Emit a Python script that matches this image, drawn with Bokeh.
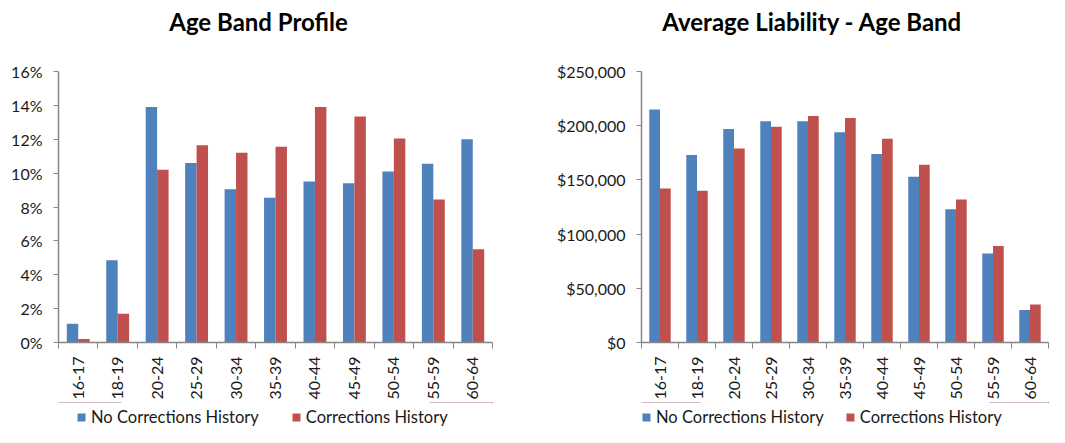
import math
from bokeh.plotting import figure
from bokeh.layouts import row, column
from bokeh.models import (ColumnDataSource, Range1d, FixedTicker, PrintfTickFormatter,
                          NumeralTickFormatter, Legend, LegendItem, Label)
from bokeh.transform import dodge
from bokeh.embed import file_html
from bokeh.resources import INLINE

# ---- data ----
age_bands = ["16-17", "18-19", "20-24", "25-29", "30-34", "35-39",
             "40-44", "45-49", "50-54", "55-59", "60-64"]
share_no_corrections = [1.1, 4.85, 13.9, 10.6, 9.05, 8.55, 9.5, 9.4, 10.1, 10.55, 12.0]
share_corrections = [0.2, 1.7, 10.2, 11.65, 11.2, 11.55, 13.9, 13.35, 12.05, 8.45, 5.5]
liability_no_corrections = [215000, 173000, 197000, 204000, 204000, 194000,
                            174000, 153000, 123000, 82000, 30000]
liability_corrections = [142000, 140000, 179000, 199000, 209000, 207000,
                         188000, 164000, 132000, 89000, 35000]
share_ticks = [0, 2, 4, 6, 8, 10, 12, 14, 16]
liability_ticks = [0, 50000, 100000, 150000, 200000, 250000]
series_names = ["No Corrections History", "Corrections History"]
titles = ["Age Band Profile", "Average Liability - Age Band"]

BLUE = "#4F81BD"
RED = "#C0504D"
AXIS = "#868686"
TXT = "#1a1a1a"
FONT = "Lato"

TITLE_H = 61
CHART_H = 341
LEGEND_H = 25


def bare_figure(width, height, y_range=(0, 1)):
    f = figure(width=width, height=height, x_range=Range1d(0, 1),
               y_range=Range1d(*y_range),
               x_axis_type=None, y_axis_type=None, output_backend="svg",
               toolbar_location=None, min_border=0)
    f.outline_line_color = None
    f.grid.grid_line_color = None
    return f


def make_title(text, width, center_x):
    # frames of a column are aligned with the chart frame below
    f = bare_figure(width, TITLE_H)
    f.add_layout(Label(x=center_x, y=40, x_units="screen", y_units="screen",
                       text=text, text_font=FONT, text_font_size="24px",
                       text_font_style="bold", text_align="center",
                       text_baseline="alphabetic", text_color="black"))
    return f


def make_legend(width, src, x, spacing):
    # the series renderers are reused here; the y range keeps the bars out of view
    f = bare_figure(width, LEGEND_H, y_range=(-2, -1))
    ra = f.vbar(x="x", top="a", width=0.29, source=src, fill_color=BLUE, line_color=None)
    rb = f.vbar(x="x", top="b", width=0.29, source=src, fill_color=RED, line_color=None)
    legend = Legend(items=[LegendItem(label=series_names[0], renderers=[ra]),
                           LegendItem(label=series_names[1], renderers=[rb])],
                    orientation="horizontal", location=(x, 0),
                    border_line_color=None, background_fill_alpha=0,
                    padding=0, margin=0, spacing=spacing,
                    glyph_width=10, glyph_height=10, label_standoff=5,
                    label_height=18,
                    label_text_font=FONT, label_text_font_size="16.5px",
                    label_text_color=TXT)
    f.add_layout(legend)
    return f


def make_chart(a_vals, b_vals, y_end, y_ticks, formatter, width, border_left, border_right):
    n = len(age_bands)
    src = ColumnDataSource(dict(x=list(range(n)), band=age_bands, a=a_vals, b=b_vals))
    p = figure(width=width, height=CHART_H, x_range=Range1d(-0.5, n - 0.5),
               y_range=Range1d(0, y_end), output_backend="svg", toolbar_location=None,
               min_border_left=border_left, min_border_right=border_right,
               min_border_top=10, min_border_bottom=60)
    p.vbar(x=dodge("x", -0.145), top="a", width=0.29, source=src,
           fill_color=BLUE, line_color=None)
    p.vbar(x=dodge("x", 0.145), top="b", width=0.29, source=src,
           fill_color=RED, line_color=None)

    p.outline_line_color = None
    p.grid.grid_line_color = None

    xa = p.xaxis[0]
    xa.ticker = FixedTicker(ticks=list(range(n)),
                            minor_ticks=[i - 0.5 for i in range(n + 1)])
    xa.major_label_overrides = {i: b for i, b in enumerate(age_bands)}
    xa.major_label_orientation = math.pi / 2
    xa.major_tick_line_color = None
    xa.major_tick_out = 0
    xa.major_tick_in = 0
    xa.minor_tick_line_color = AXIS
    xa.minor_tick_out = 6
    xa.minor_tick_in = 0
    xa.axis_line_color = AXIS
    xa.axis_line_width = 1.5
    xa.major_label_standoff = 8
    xa.major_label_text_font = FONT
    xa.major_label_text_font_size = "16px"
    xa.major_label_text_color = TXT

    ya = p.yaxis[0]
    ya.ticker = FixedTicker(ticks=y_ticks)
    ya.formatter = formatter
    ya.axis_line_color = AXIS
    ya.axis_line_width = 1.5
    ya.major_tick_line_color = AXIS
    ya.major_tick_out = 5
    ya.major_tick_in = 0
    ya.minor_tick_line_color = None
    ya.major_label_standoff = 11
    ya.major_label_text_font = FONT
    ya.major_label_text_font_size = "16px"
    ya.major_label_text_color = TXT
    return p, src


W1, W2 = 500, 549

p1, src1 = make_chart(share_no_corrections, share_corrections, 16, share_ticks,
                      PrintfTickFormatter(format="%d%%"), W1, 58, 8)
p2, src2 = make_chart(liability_no_corrections, liability_corrections, 250000,
                      liability_ticks, NumeralTickFormatter(format="$0,0"), W2, 141, 1)

left = column(make_title(titles[0], W1, 200), p1, make_legend(W1, src1, 18, 32), spacing=0)
right = column(make_title(titles[1], W2, 171), p2, make_legend(W2, src2, 0, 21), spacing=0)

layout = row(left, right, spacing=0)
open("out.html", "w").write(file_html(layout, INLINE))
